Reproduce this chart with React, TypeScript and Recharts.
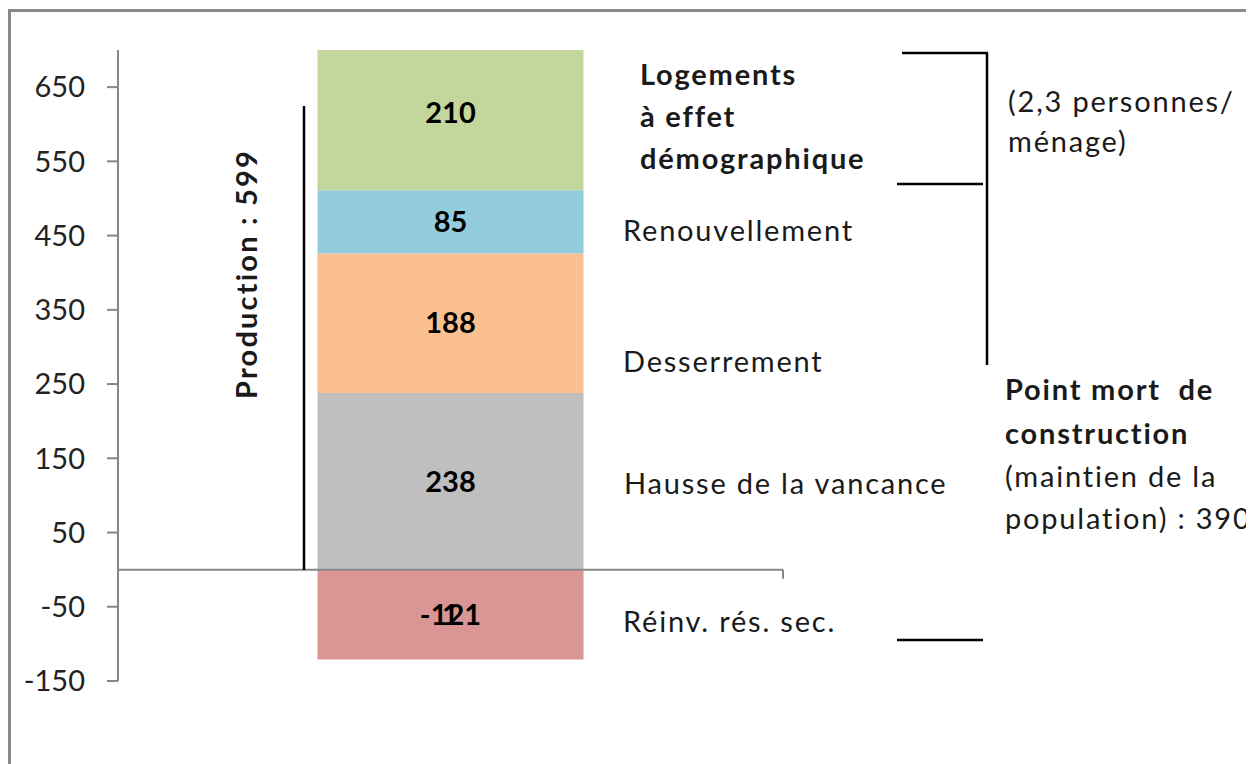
import React from 'react';
import { BarChart, Bar, XAxis, YAxis, ReferenceLine, LabelList } from 'recharts';

const categories = [''];
const reinvResSec = [-121];
const hausseVacance = [238];
const desserrement = [188];
const renouvellement = [85];
const logementsDemo = [210];
const yTicks = [-150, -50, 50, 150, 250, 350, 450, 550, 650];

const data = categories.map((name, i) => ({
  name,
  reinv: reinvResSec[i],
  hausse: hausseVacance[i],
  desserrement: desserrement[i],
  renouvellement: renouvellement[i],
  logements: logementsDemo[i],
}));

const FONT = 'Lato, "Open Sans", sans-serif';
const FS = 29;
const axisGray = '#878787';

const labelStyle = { fill: '#000', fontWeight: 700, fontSize: FS, fontFamily: FONT };

const zeroLineShape = (props: any) => (
  <g>
    <line x1={props.x1} y1={props.y1} x2={props.x2} y2={props.y2} stroke={axisGray} strokeWidth={2} />
    <line x1={props.x2} y1={props.y2} x2={props.x2} y2={props.y2 + 9} stroke={axisGray} strokeWidth={2} />
  </g>
);

export default function App() {
  const textProps = {
    fontFamily: FONT,
    fontSize: FS,
    fill: '#1a1a1a',
    dominantBaseline: 'central' as const,
    letterSpacing: 1.8,
  };
  return (
    <div style={{ position: 'relative', width: 1246, height: 756, overflow: 'hidden', background: '#fff' }}>
      {/* frame */}
      <div style={{ position: 'absolute', left: 0, top: 1, width: 1400, height: 900, border: '3px solid #8a8a8a', boxSizing: 'border-box' }} />
      <div style={{ position: 'absolute', left: 0, top: 0 }}>
        <BarChart
          width={1246}
          height={756}
          data={data}
          stackOffset="sign"
          barCategoryGap="30%"
          margin={{ top: 42, right: 471, bottom: 83, left: 0 }}
        >
          <XAxis dataKey="name" hide />
          <YAxis
            width={110}
            domain={[-150, 700]}
            ticks={yTicks}
            allowDataOverflow
            interval={0}
            tickSize={11}
            tickMargin={22}
            axisLine={{ stroke: axisGray, strokeWidth: 2 }}
            tickLine={{ stroke: axisGray, strokeWidth: 2 }}
            tick={{ fill: '#222', fontSize: FS, fontFamily: FONT }}
          />
          <Bar dataKey="reinv" stackId="a" fill="#D99694" isAnimationActive={false}>
            <LabelList dataKey="reinv" position="center" style={labelStyle} />
            <LabelList dataKey="reinv" position="center" formatter={() => '1'} style={labelStyle} />
          </Bar>
          <Bar dataKey="hausse" stackId="a" fill="#BFBFBF" isAnimationActive={false}>
            <LabelList dataKey="hausse" position="center" style={labelStyle} />
          </Bar>
          <Bar dataKey="desserrement" stackId="a" fill="#FAC090" isAnimationActive={false}>
            <LabelList dataKey="desserrement" position="center" style={labelStyle} />
          </Bar>
          <Bar dataKey="renouvellement" stackId="a" fill="#93CDDD" isAnimationActive={false}>
            <LabelList dataKey="renouvellement" position="center" style={labelStyle} />
          </Bar>
          <Bar dataKey="logements" stackId="a" fill="#C3D69B" isAnimationActive={false}>
            {/* label sits at the centre of the full (unclipped) segment */}
            <LabelList dataKey="logements" position="center" dy={-7} style={labelStyle} />
          </Bar>
          <ReferenceLine y={0} shape={zeroLineShape} />
        </BarChart>
      </div>
      {/* annotations */}
      <svg width={1246} height={756} style={{ position: 'absolute', left: 0, top: 0, pointerEvents: 'none' }}>
        <g stroke="#000" strokeWidth={2.5}>
          <line x1={296} y1={98} x2={296} y2={562} />
          <line x1={894} y1={45} x2={980} y2={45} />
          <line x1={979} y1={45} x2={979} y2={357} />
          <line x1={889} y1={176} x2={975} y2={176} />
          <line x1={889} y1={632} x2={975} y2={632} />
        </g>
        <text x={237} y={266} transform="rotate(-90 237 266)" textAnchor="middle" {...textProps} letterSpacing={2.2} fontWeight={700}>
          Production : 599
        </text>
        <text x={632} y={65} {...textProps} fontWeight={700}>Logements</text>
        <text x={632} y={107} {...textProps} fontWeight={700}>à effet</text>
        <text x={632} y={149} {...textProps} fontWeight={700}>démographique</text>
        <text x={615} y={221} {...textProps}>Renouvellement</text>
        <text x={615} y={352} {...textProps}>Desserrement</text>
        <text x={616} y={474} {...textProps}>Hausse de la vancance</text>
        <text x={615} y={612} {...textProps}>Réinv. rés. sec.</text>
        <text x={1000} y={92} {...textProps}>(2,3 personnes/</text>
        <text x={1000} y={132} {...textProps}>ménage)</text>
        <text x={997} y={380} {...textProps} fontWeight={700} style={{ whiteSpace: 'pre' }}>Point mort  de</text>
        <text x={997} y={424} {...textProps} fontWeight={700}>construction</text>
        <text x={997} y={467} {...textProps}>(maintien de la</text>
        <text x={997} y={509} {...textProps}>population) : 390</text>
      </svg>
    </div>
  );
}
